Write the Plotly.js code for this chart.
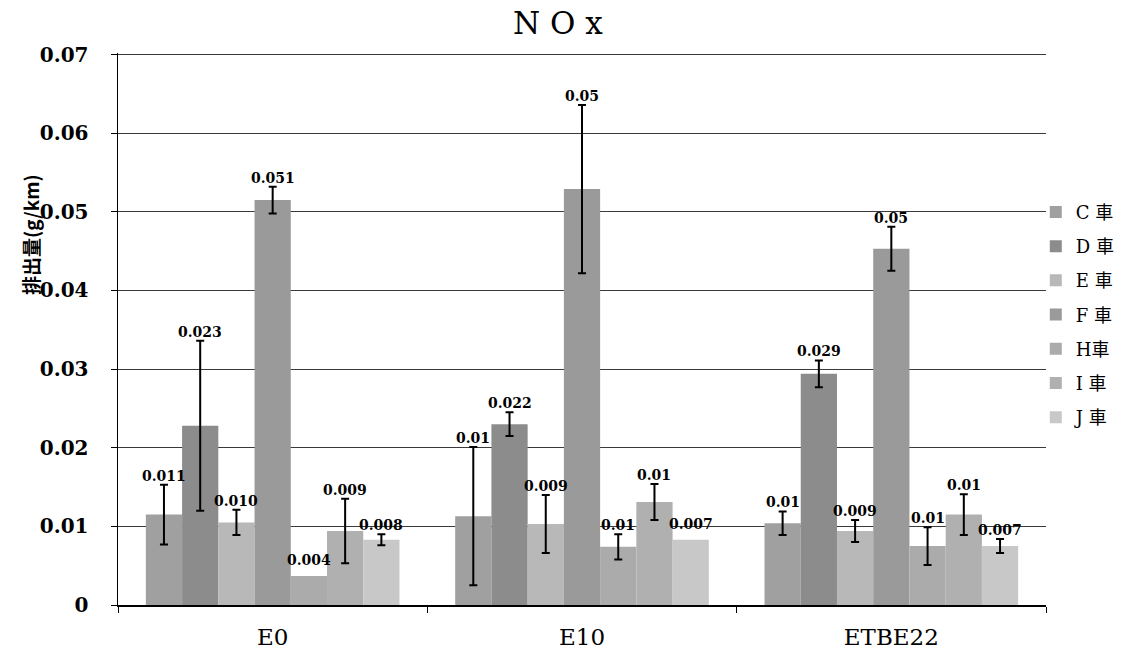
<!DOCTYPE html>
<html>
<head>
<meta charset="utf-8">
<script src="https://cdn.plot.ly/plotly-3.0.1.min.js"></script>
<style>html,body{margin:0;padding:0;background:#fff;}#chart{width:1132px;height:659px;}</style>
</head>
<body>
<div id="chart"></div>
<script>
// ---- data ----
const categories = ["E0", "E10", "ETBE22"];
const seriesNames = ["C 車", "D 車", "E 車", "F 車", "H車", "I 車", "J 車"];

const valC = [0.0115, 0.0113, 0.0104];
const valD = [0.0228, 0.0230, 0.0294];
const valE = [0.0105, 0.0103, 0.0094];
const valF = [0.0515, 0.0529, 0.0453];
const valH = [0.0037, 0.0074, 0.0075];
const valI = [0.0094, 0.0131, 0.0115];
const valJ = [0.0083, 0.0083, 0.0075];

const errC = [0.0038, 0.0088, 0.0015];
const errD = [0.0108, 0.0015, 0.0017];
const errE = [0.0016, 0.0037, 0.0014];
const errF = [0.0017, 0.0107, 0.0028];
const errH = [NaN, 0.0016, 0.0024];
const errI = [0.0041, 0.0023, 0.0026];
const errJ = [0.0007, NaN, 0.0009];

const lblC = ["0.011", "0.01", "0.01"];
const lblD = ["0.023", "0.022", "0.029"];
const lblE = ["0.010", "0.009", "0.009"];
const lblF = ["0.051", "0.05", "0.05"];
const lblH = ["0.004", "0.01", "0.01"];
const lblI = ["0.009", "0.01", "0.01"];
const lblJ = ["0.008", "0.007", "0.007"];

const yTickVals = [0, 0.01, 0.02, 0.03, 0.04, 0.05, 0.06, 0.07];

// ---- styling ----
const colors = ["#a0a0a0", "#8c8c8c", "#b8b8b8", "#9a9a9a", "#ababab", "#b0b0b0", "#c8c8c8"];
const values = [valC, valD, valE, valF, valH, valI, valJ];
const errors = [errC, errD, errE, errF, errH, errI, errJ];
const labels = [lblC, lblD, lblE, lblF, lblH, lblI, lblJ];

const serif = "DejaVu Serif, Liberation Serif, serif";
const bargap = 0.18;
const n = values.length;

const traces = values.map((v, i) => ({
  type: "bar",
  name: seriesNames[i],
  x: categories,
  y: v,
  legendgroup: "g" + i,
  marker: { color: colors[i], line: { width: 0 } },
  error_y: { type: "data", array: errors[i], visible: true, color: "#000", thickness: 2, width: 4 },
  hoverinfo: "skip"
}));

const groupW = 1 - bargap;
const annotations = [];
values.forEach((v, i) => {
  const off = -groupW / 2 + (i + 0.5) * groupW / n;
  v.forEach((val, j) => {
    const e = isNaN(errors[i][j]) ? 0 : errors[i][j];
    annotations.push({
      xref: "x", yref: "y", x: j + off, y: val + e,
      text: labels[i][j], showarrow: false,
      yanchor: "bottom", xanchor: "center", yshift: e ? -1 : 6,
      font: { family: serif, size: 14, color: "#000", weight: "bold" }
    });
  });
});

annotations.push({
  xref: "paper", yref: "paper", x: -0.095, y: 0.672,
  text: "<b>排出量(g/km)</b>", showarrow: false, textangle: -90,
  xanchor: "center", yanchor: "middle",
  font: { family: "Noto Sans CJK JP, sans-serif", size: 19, color: "#000" }
});

const layout = {
  width: 1132, height: 659,
  margin: { l: 118, r: 86, t: 53, b: 54 },
  paper_bgcolor: "#fff", plot_bgcolor: "#fff",
  barmode: "group", bargap: bargap, bargroupgap: 0,
  title: {
    text: "N O x", x: 0.474, xref: "paper", xanchor: "center",
    y: 0.965, yref: "container", yanchor: "middle",
    font: { family: serif, size: 31, color: "#000" }
  },
  xaxis: {
    type: "category", range: [-0.5, 2.5],
    showline: true, linecolor: "#000", linewidth: 2,
    ticks: "outside", tickson: "boundaries", ticklen: 6, tickcolor: "#000",
    ticklabelstandoff: 10,
    tickfont: { family: serif, size: 23, color: "#000" },
    showgrid: false
  },
  yaxis: {
    range: [0, 0.0702], tickvals: yTickVals,
    showline: true, linecolor: "#000", linewidth: 1.5,
    ticks: "outside", ticklen: 6, tickcolor: "#000",
    ticklabelstandoff: 18,
    tickfont: { family: "DejaVu Serif", size: 20, color: "#000", weight: "bold" },
    showgrid: true, gridcolor: "#3a3a3a", gridwidth: 1,
    zeroline: false
  },
  legend: {
    x: 0.989, xanchor: "left", y: 0.745, yanchor: "top",
    traceorder: "grouped", tracegroupgap: 7.8,
    font: { family: "DejaVu Serif, Noto Sans CJK JP, serif", size: 18, color: "#000" },
    bgcolor: "rgba(0,0,0,0)", itemwidth: 30
  },
  annotations: annotations,
  showlegend: true
};

Plotly.newPlot("chart", traces, layout, { displayModeBar: false, staticPlot: true });
</script>
</body>
</html>
